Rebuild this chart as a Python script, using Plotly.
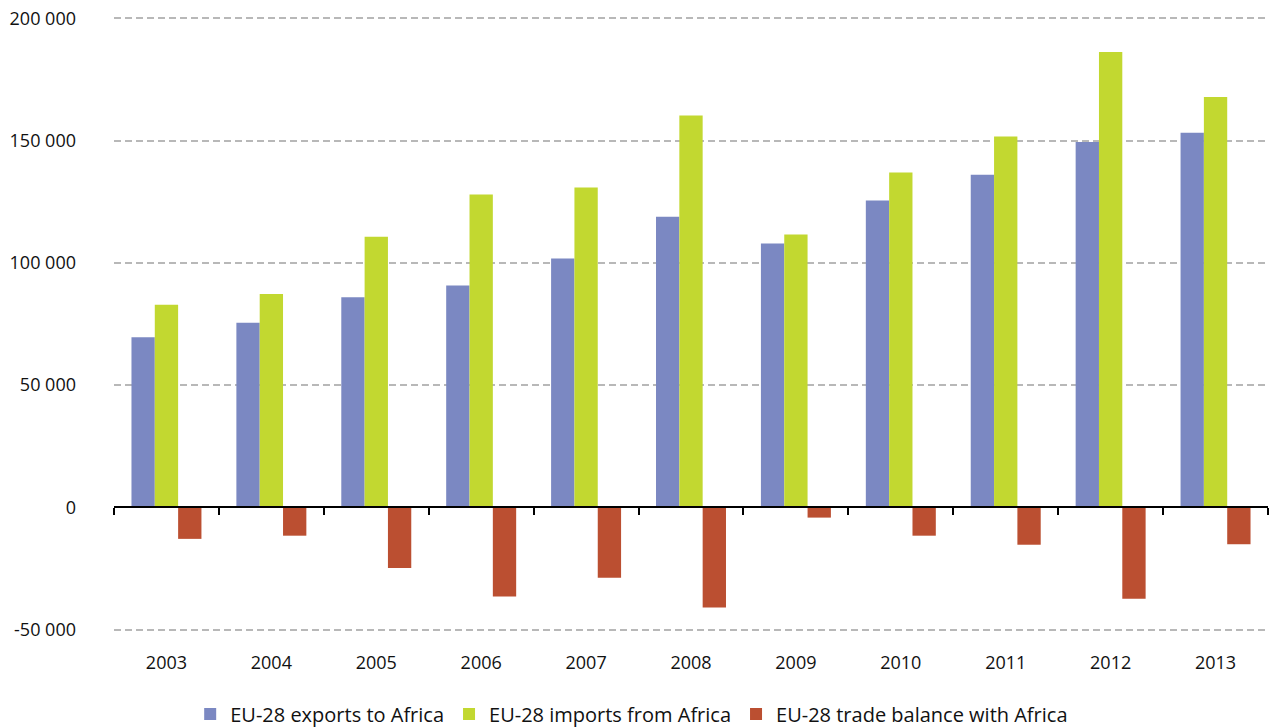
import plotly.graph_objects as go

years = ["2003", "2004", "2005", "2006", "2007", "2008", "2009", "2010", "2011", "2012", "2013"]
exports = [69600, 75500, 85900, 90700, 101800, 118900, 107900, 125500, 136100, 149500, 153200]
imports = [82900, 87300, 110700, 128000, 130800, 160300, 111600, 137000, 151700, 186300, 167900]
balance = [-12900, -11600, -24800, -36500, -28800, -41000, -4200, -11600, -15300, -37400, -15100]

series_names = ["EU-28 exports to Africa", "EU-28 imports from Africa", "EU-28 trade balance with Africa"]
colors = ["#7b88c2", "#c2d830", "#bb4f31"]

y_min, y_max, y_step = -50000, 200000, 50000
tick_vals = list(range(y_min, y_max + 1, y_step))
tick_text = [f"{v:,}".replace(",", " ") for v in tick_vals]
pad = 1000  # small padding so the edge gridlines are drawn
r_lo, r_hi = y_min - pad, y_max + pad
x_range = [-0.5, len(years) - 0.5]

FONT = "Open Sans"

fig = go.Figure()
for name, vals, col in zip(series_names, [exports, imports, balance], colors):
    fig.add_trace(go.Bar(x=years, y=vals, name=name, marker=dict(color=col, line=dict(width=0)),
                         xaxis="x", yaxis="y"))

# invisible helper trace so the zero-line axis knows the categories
fig.add_trace(go.Scatter(x=years, y=[0] * len(years), xaxis="x2", yaxis="y", mode="markers",
                         marker=dict(opacity=0, size=1), showlegend=False, hoverinfo="skip"))

zero_pos = (0 - r_lo) / (r_hi - r_lo)

fig.update_layout(
    width=1271, height=727,
    margin=dict(l=114, r=3, t=16, b=95, autoexpand=False),
    paper_bgcolor="white", plot_bgcolor="white",
    font=dict(family=FONT, size=18, color="#111111"),
    barmode="group", bargap=0.333, bargroupgap=0,
    showlegend=True,
    legend=dict(orientation="h", xref="container", x=0.497, xanchor="center",
                yref="paper", y=-0.133, yanchor="middle",
                font=dict(family=FONT, size=20, color="#111111"),
                itemwidth=30, traceorder="normal"),
    xaxis=dict(type="category", categoryorder="array", categoryarray=years, range=x_range,
               showline=False, showgrid=False, zeroline=False, ticks="",
               ticklabelstandoff=18, tickfont=dict(size=18), automargin=False),
    xaxis2=dict(type="category", categoryorder="array", categoryarray=years, range=x_range,
                overlaying="x", anchor="free", position=zero_pos,
                showline=True, linecolor="black", linewidth=2,
                ticks="outside", tickson="boundaries", ticklen=7, tickwidth=2, tickcolor="black",
                showticklabels=False, showgrid=False, zeroline=False, automargin=False),
    yaxis=dict(range=[r_lo, r_hi], tickvals=tick_vals, ticktext=tick_text,
               showgrid=True, gridcolor="#b8b8b8", gridwidth=2, griddash="7px,4px",
               zeroline=False, showline=False, ticks="", ticklabelstandoff=37,
               tickfont=dict(size=18), automargin=False),
)

fig.write_html("out.html", config={"displayModeBar": False},
               post_script="document.body.style.margin='0';")
